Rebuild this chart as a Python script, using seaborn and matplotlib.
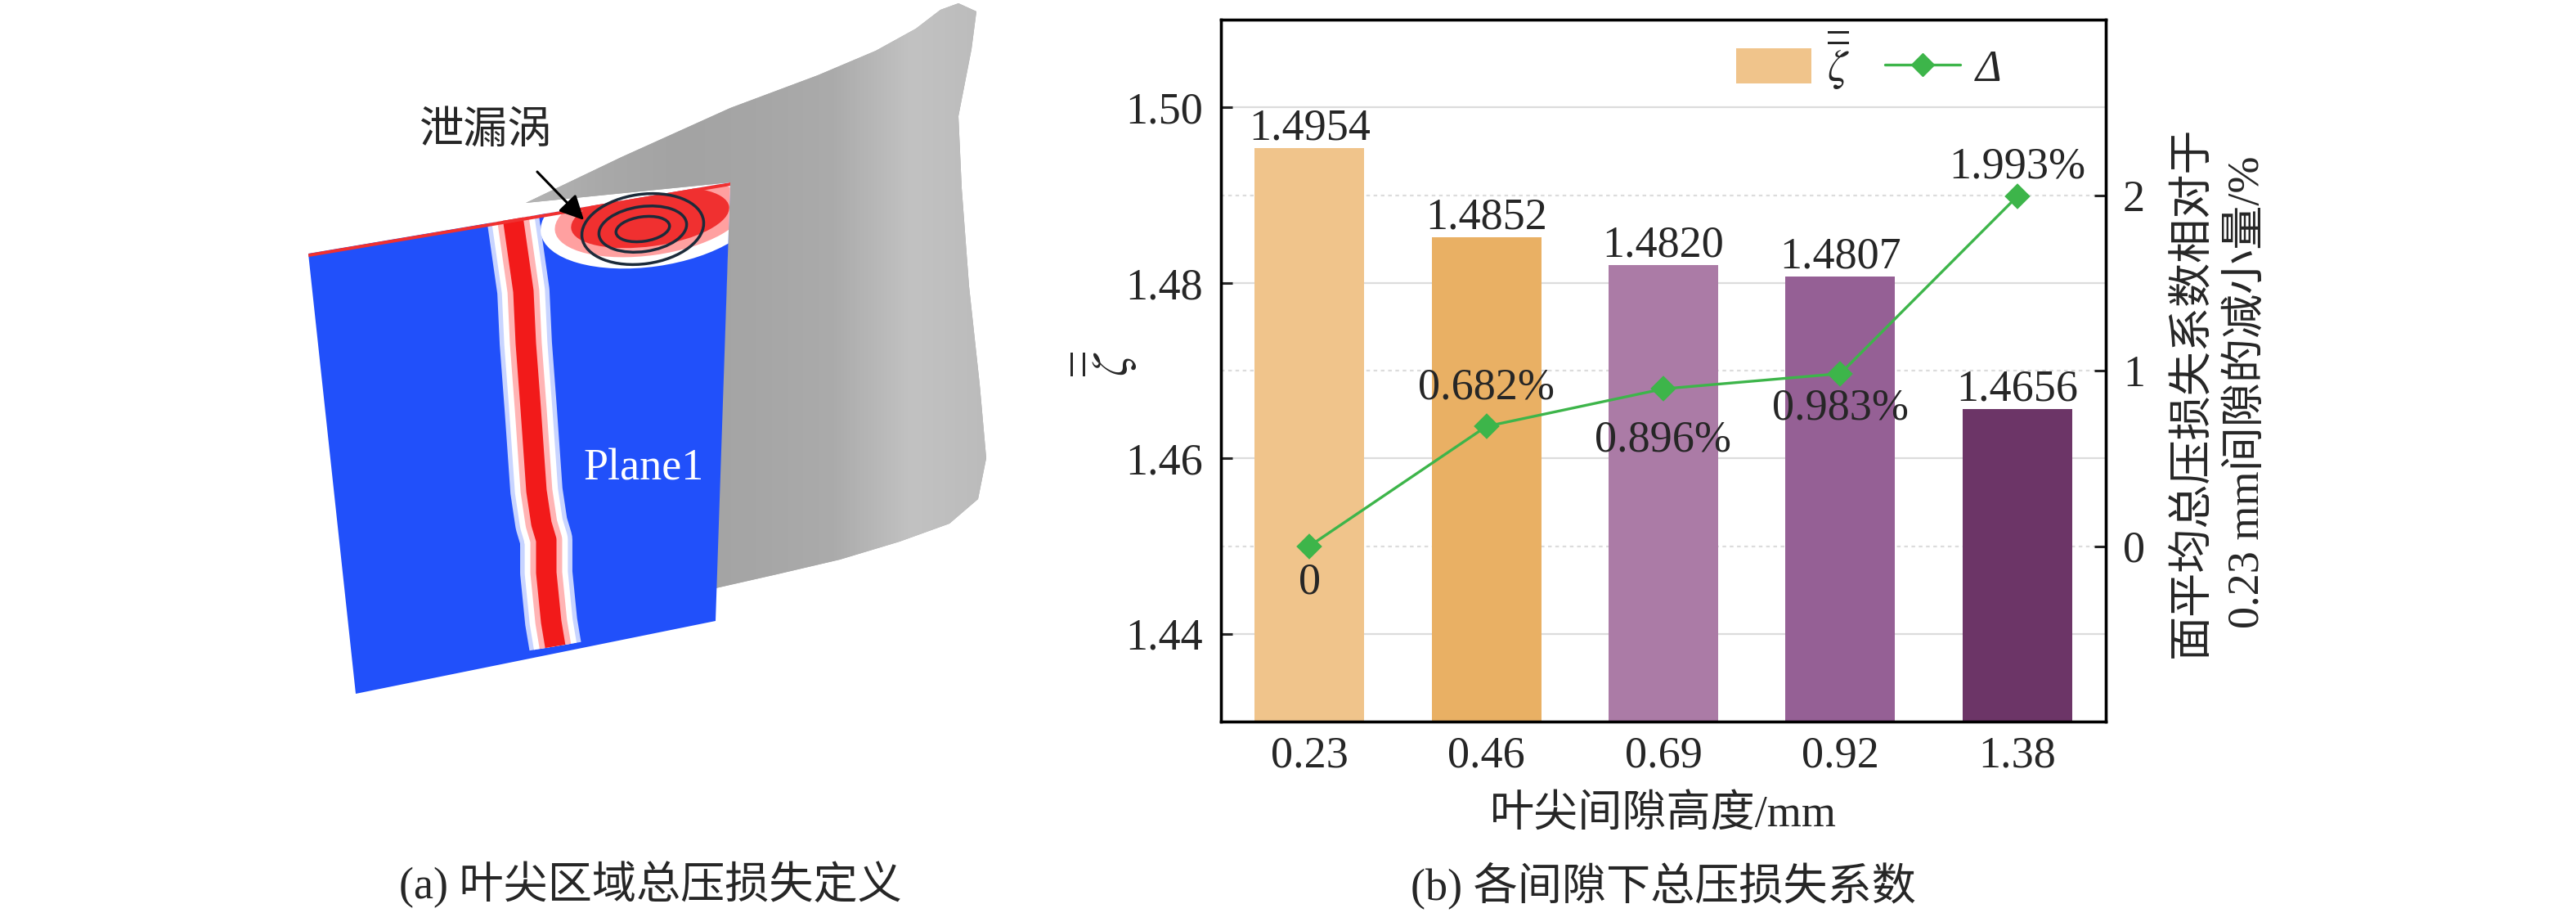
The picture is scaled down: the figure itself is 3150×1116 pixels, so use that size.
import numpy as np
import matplotlib
matplotlib.use("Agg")
import matplotlib.pyplot as plt
import matplotlib.transforms as mtransforms
from matplotlib.colors import LinearSegmentedColormap
from matplotlib.patches import Polygon, Ellipse
from matplotlib.lines import Line2D
from matplotlib.patches import Patch
import seaborn as sns

# ---------------- data ----------------
gaps = ['0.23', '0.46', '0.69', '0.92', '1.38']
zeta = [1.4954, 1.4852, 1.4820, 1.4807, 1.4656]
delta = [0.0, 0.682, 0.896, 0.983, 1.993]
bar_colors = ['#F0C48B', '#E9B064', '#AB7BA6', '#956095', '#6C3567']
line_color = '#3DB54A'

# label offsets in points (style, not data)
delta_offsets = [-32, 34, -45, -31, 26]
bar_offset = 17

sns.set_style('ticks')
plt.rcParams['font.family'] = ['Liberation Serif', 'Noto Sans CJK SC']
plt.rcParams['mathtext.fontset'] = 'stix'
FS = 39

W, H = 3150, 1116
fig = plt.figure(figsize=(W / 100, H / 100), dpi=100)

# ---------------- left illustration (pixel coordinates) ----------------
ax0 = fig.add_axes([0, 0, 1400 / W, 1])
ax0.set_xlim(0, 1400)
ax0.set_ylim(H, 0)
ax0.axis('off')

blade = np.array([(643, 248), (760, 192), (893, 132), (1000, 92), (1071, 62), (1120, 35),
                  (1150, 12), (1172, 4), (1194, 14), (1188, 60), (1172, 142), (1176, 230),
                  (1185, 350), (1198, 470), (1206, 560), (1196, 610), (1161, 640),
                  (1100, 662), (1027, 684), (950, 702), (875, 719), (893, 223)])
bpoly = Polygon(blade, closed=True, facecolor='#A8A8A8', edgecolor='none')
ax0.add_patch(bpoly)
grey_cmap = LinearSegmentedColormap.from_list(
    'blade', ['#B4B4B4', '#A9A9A9', '#A3A3A3', '#A6A6A6', '#ABABAB', '#C2C2C2', '#BBBBBB'])
grad = np.linspace(0, 1, 256)[None, :]
im = ax0.imshow(np.vstack([grad] * 4), extent=(640, 1210, 720, 0), cmap=grey_cmap,
                vmin=0, vmax=1, aspect='auto', zorder=1)
im.set_clip_path(bpoly)

plane = np.array([(377, 310), (893, 223), (875, 759), (435, 848)])
ppoly = Polygon(plane, closed=True, facecolor='#2150FA', edgecolor='none', zorder=2)
ax0.add_patch(ppoly)

sy = np.array([265, 300, 356, 420, 500, 600, 640, 660, 700, 760, 790])
sx = np.array([627, 632, 640, 643, 649, 656, 662, 668, 668, 674, 679])
for lw, col in [(46, '#C8D4FF'), (38, '#FFFFFF'), (28, '#FFB4B4'), (18, '#F21A1A')]:
    ln = ax0.plot(sx, sy, color=col, lw=lw, zorder=3, solid_capstyle='butt',
                  solid_joinstyle='round')[0]
    ln.set_clip_path(ppoly)
for w, h, col in [(270, 120, '#FFFFFF'), (235, 92, '#FFA0A0'), (195, 70, '#F03030')]:
    e = Ellipse((795, 266), w, h, angle=-8, facecolor=col, edgecolor='none', zorder=3)
    ax0.add_patch(e)
    e.set_clip_path(ppoly)
tl = ax0.plot([377, 893], [312, 225], color='#F03030', lw=3, zorder=3)[0]
tl.set_clip_path(ppoly)
for w, h in [(150, 85), (108, 55), (66, 30)]:
    ax0.add_patch(Ellipse((786, 280), w, h, angle=-8, facecolor='none',
                          edgecolor='#1C2B3A', lw=2.5, zorder=4))

ax0.annotate('', xy=(716, 271), xytext=(655, 208),
             arrowprops=dict(arrowstyle='-|>', color='black', lw=2.2, mutation_scale=45),
             zorder=5)
ax0.text(594, 162, '泄漏涡', fontsize=FS, ha='center', va='center', zorder=5)
ax0.text(787, 573, 'Plane1', fontsize=FS, ha='center', va='center', color='white', zorder=5)

fig.text(795 / W, 1 - 1082 / H, '(a) 叶尖区域总压损失定义', fontsize=FS, ha='center', va='center')

# ---------------- right chart ----------------
x0, x1, y0, y1 = 1493, 2575, 24, 882
ax = fig.add_axes([x0 / W, 1 - y1 / H, (x1 - x0) / W, (y1 - y0) / H])

sns.barplot(x=gaps, y=zeta, hue=gaps, palette=bar_colors, legend=False, saturation=1,
            width=0.62, linewidth=0, ax=ax, zorder=2)
ax.set_ylim(1.43, 1.51)
ax.set_yticks([1.44, 1.46, 1.48, 1.50])
ax.set_yticklabels([f'{t:.2f}' for t in [1.44, 1.46, 1.48, 1.50]])
ax.set_xlim(-0.5, 4.5)
ax.set_axisbelow(True)
ax.grid(axis='y', color='#DCDCDC', lw=1.6, zorder=0)
ax.grid(axis='x', visible=False)

for i, v in enumerate(zeta):
    ax.annotate(f'{v:.4f}', xy=(i, v), xytext=(0, bar_offset), textcoords='offset points',
                ha='center', va='center', fontsize=FS, zorder=6)

ax2 = ax.twinx()
sns.pointplot(x=gaps, y=delta, ax=ax2, color=line_color, markers='D', linestyles='-',
              errorbar=None, markersize=14, linewidth=2.4)
ax2.set_ylim(-1, 3)
ax2.set_yticks([0, 1, 2])
ax2.set_yticklabels(['0', '1', '2'])
ax2.set_xlim(-0.5, 4.5)
ax2.grid(False)

# dashed grid lines for the right axis, drawn beneath the bars
blend = mtransforms.blended_transform_factory(ax.transAxes, ax2.transData)
for t in [0, 1, 2]:
    ax.plot([0, 1], [t, t], transform=blend, color='#DCDCDC', lw=1.6,
            ls=(0, (2, 2)), zorder=0.5)

for i, (v, off) in enumerate(zip(delta, delta_offsets)):
    lab = '0' if v == 0 else f'{v:.3f}%'
    ax2.annotate(lab, xy=(i, v), xytext=(0, off), textcoords='offset points',
                 ha='center', va='center', fontsize=FS, zorder=6)

for a in (ax, ax2):
    for s in a.spines.values():
        s.set_linewidth(2.4)
        s.set_color('black')
        s.set_visible(True)

ax.tick_params(axis='y', direction='in', length=10, width=2.2, pad=16, labelsize=FS, right=False)
ax.tick_params(axis='x', direction='in', length=10, width=2.2, pad=12, labelsize=FS, top=False)
ax2.tick_params(axis='y', direction='in', length=10, width=2.2, pad=15, labelsize=FS)
ax2.tick_params(axis='x', top=False, bottom=False)

zeta_tex = r'$\overline{\overline{\zeta}}$'
ax.set_xlabel('叶尖间隙高度/mm', fontsize=FS)
ax.xaxis.set_label_coords(0.5, -0.105)
ax.set_ylabel(zeta_tex, fontsize=FS + 4)
ax.yaxis.set_label_coords(-0.092, 0.51)
ax2.set_ylabel('面平均总压损失系数相对于\n0.23 mm间隙的减小量/%', fontsize=FS,
               linespacing=1.4)
ax2.yaxis.set_label_coords(1.076, 0.469)

handles = [Patch(facecolor=bar_colors[0], edgecolor='none'),
           Line2D([0], [0], color=line_color, lw=2.4, marker='D', markersize=14)]
leg = ax.legend(handles, [zeta_tex, 'Δ'], ncol=2, loc='center',
                bbox_to_anchor=(0.732, 0.943), frameon=False, fontsize=FS,
                handlelength=1.7, handleheight=0.85, handletextpad=0.35, columnspacing=0.8)
leg.get_texts()[1].set_style('italic')

fig.text(2034 / W, 1 - 1082 / H, '(b) 各间隙下总压损失系数', fontsize=FS, ha='center', va='center')

fig.savefig('out.png', dpi=100)
